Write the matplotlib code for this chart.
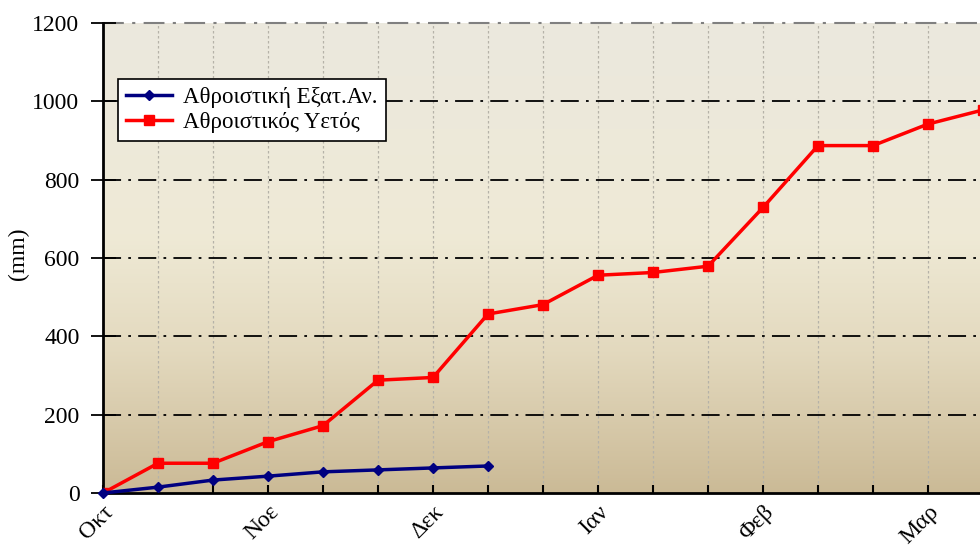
import numpy as np
import matplotlib
matplotlib.use("Agg")
import matplotlib.pyplot as plt
from matplotlib.colors import LinearSegmentedColormap

plt.rcParams['font.family'] = ['Liberation Serif', 'DejaVu Serif']

month_labels = ['Οκτ', 'Νοε', 'Δεκ', 'Ιαν', 'Φεβ', 'Μαρ']
evap_cum = [0, 15, 33, 43, 54, 59, 64, 69]
rain_cum = [0, 76, 76, 131, 172, 288, 295, 457, 481, 556, 563, 579, 729, 887, 887, 942, 978]
label_evap = 'Αθροιστική Εξατ.Αν.'
label_rain = 'Αθροιστικός Υετός'

fig = plt.figure(figsize=(9.8, 5.49), dpi=100)
n_units = 18
ax = fig.add_axes([103/980, 1 - 493/549, n_units*55/980, 470/549])
ax.set_xlim(0, n_units)
ax.set_ylim(0, 1200)

# gradient background
cmap = LinearSegmentedColormap.from_list('bg', [(0.0, '#CBBA96'), (0.3, '#E3D9BE'),
                                                (0.55, '#EFEAD6'), (1.0, '#EBE8DE')])
grad = np.linspace(0, 1, 256).reshape(-1, 1)
ax.imshow(grad, aspect='auto', cmap=cmap, origin='lower', extent=[0, n_units, 0, 1200], zorder=0)

# vertical dotted gridlines
for xv in range(1, n_units):
    ax.axvline(xv, color='#B5B2A8', lw=0.9, ls=(0, (2, 2)), zorder=1)
# horizontal dash-dot gridlines
for yv in [200, 400, 600, 800, 1000]:
    ax.axhline(yv, color='black', lw=1.3, ls=(0, (10, 4, 1.5, 4)), zorder=1)
ax.axhline(1200, color='#808080', lw=1.5, ls=(0, (10, 4, 1.5, 4)), zorder=1, clip_on=False)

ax.plot(range(len(rain_cum)), rain_cum, color='#FF0000', lw=2.5, marker='s', ms=7,
        label=label_rain, zorder=3, clip_on=True)
ax.plot(range(len(evap_cum)), evap_cum, color='#000080', lw=2.5, marker='D', ms=5.5,
        label=label_evap, zorder=4, clip_on=False)

for s in ['top', 'right']:
    ax.spines[s].set_visible(False)
for s in ['left', 'bottom']:
    ax.spines[s].set_linewidth(2)
    ax.spines[s].set_color('black')

ax.set_yticks([0, 200, 400, 600, 800, 1000, 1200])
ax.tick_params(axis='y', direction='inout', length=18, width=1.3, labelsize=17, pad=8)
ax.set_xticks(range(0, n_units))
ax.set_xticklabels([month_labels[i // 3] if i % 3 == 0 and i // 3 < len(month_labels) else '' for i in range(n_units)])
ax.tick_params(axis='x', direction='in', length=6, width=1.5, labelsize=17, pad=6)
for lbl in ax.get_xticklabels():
    lbl.set_rotation(45)
    lbl.set_ha('right')
    lbl.set_rotation_mode('anchor')

fig.text(18/980, 1 - 254/549, '(mm)', rotation=90, ha='center', va='center', fontsize=17)

handles, labels = ax.get_legend_handles_labels()
leg = ax.legend(handles[::-1], labels[::-1], loc='upper left',
                bbox_to_anchor=((118-103)/990, (493-79)/470), fontsize=16.5,
                frameon=True, fancybox=False, edgecolor='black', framealpha=1,
                handlelength=2.0, borderpad=0.35, labelspacing=0.15, handletextpad=0.5,
                borderaxespad=0)
leg.get_frame().set_linewidth(1.2)

fig.savefig('out.png', dpi=100)
